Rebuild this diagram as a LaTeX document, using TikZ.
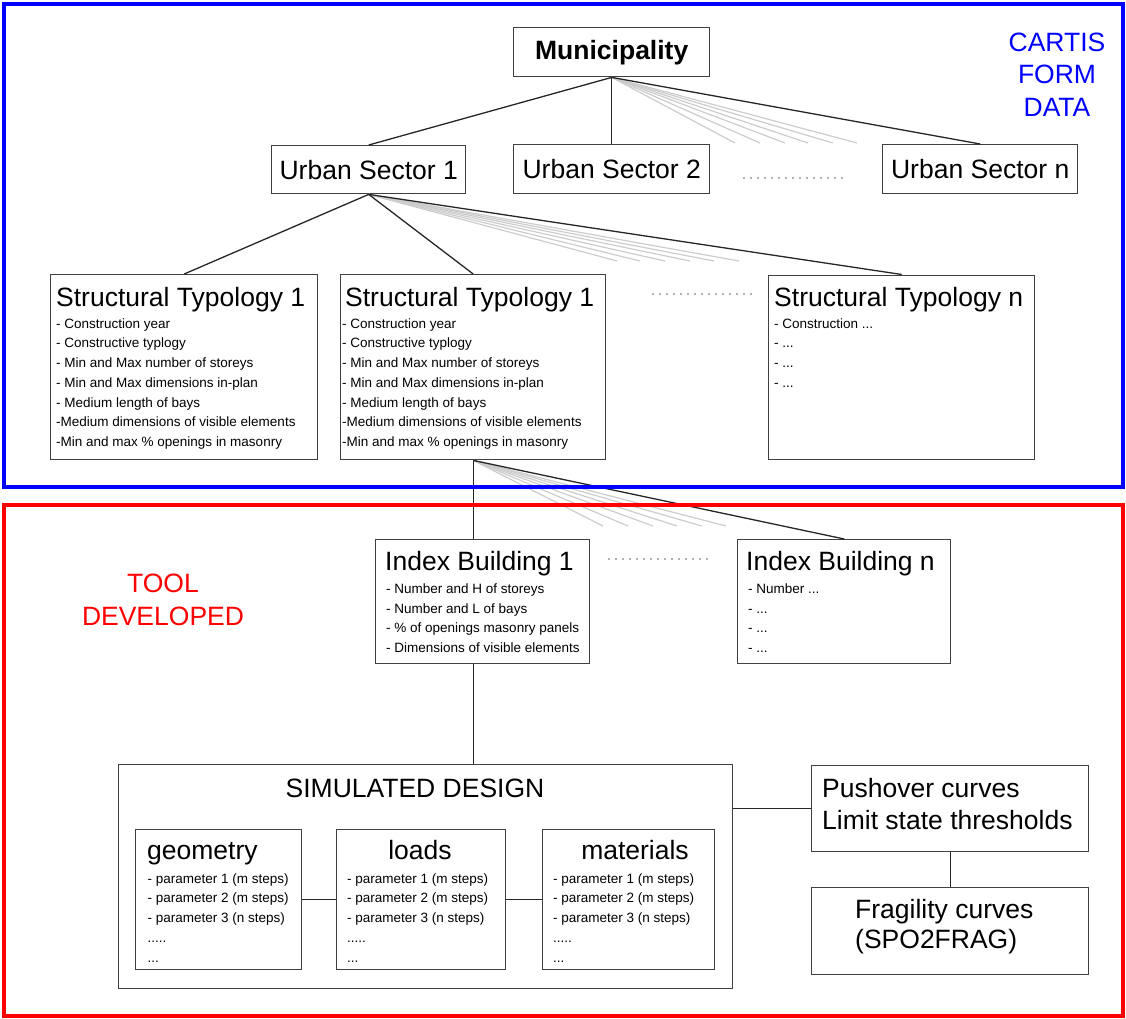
\documentclass[tikz,border=0pt]{standalone}
\usepackage{fontspec}
\setmainfont{Liberation Sans}

\begin{document}
\begin{tikzpicture}[x=1pt,y=-1pt,
  box/.style={draw=black!75, line width=1.4pt, inner sep=0pt, anchor=north west},
  big/.style={font=\fontsize{26.5}{32.5}\selectfont},
  title/.style={big, inner sep=0pt, anchor=base west},
  items/.style={font=\fontsize{13.5}{19.7}\selectfont, align=left, inner sep=0pt, anchor=north west},
  link/.style={draw=black!85, line width=1.3pt},
  fan/.style={draw=black!20, line width=1.2pt},
  gap/.style={draw=black!30, line width=1.6pt, dash pattern=on 1.6pt off 5.4pt}]

  \useasboundingbox (0,0) rectangle (1126,1019);

  \node[box, big, minimum width=196pt, minimum height=49pt] (mun) at (513,27) {\textbf{Municipality}};
  \node[box, big, minimum width=194pt, minimum height=48pt] (us1) at (271,145) {Urban Sector 1};
  \node[box, big, minimum width=196pt, minimum height=49pt] (us2) at (513,144) {Urban Sector 2};
  \node[box, big, minimum width=195pt, minimum height=49pt] (usn) at (882,144) {Urban Sector n};
  \coordinate (usgapa) at (743,178);
  \coordinate (usgapb) at (844,178);

  \node[box, minimum width=267pt, minimum height=185pt] (st1) at (50,274) {};
  \node[title] (st1t) at (56,306) {Structural Typology 1};
  \node[items] (st1l) at (56,318.3) {- Construction year\\- Constructive typlogy\\- Min and Max number of storeys\\- Min and Max dimensions in-plan\\- Medium length of bays\\-Medium dimensions of visible elements\\-Min and max \% openings in masonry};

  \node[box, minimum width=265pt, minimum height=185pt] (st2) at (340,274) {};
  \node[title] (st2t) at (345,306) {Structural Typology 1};
  \node[items] (st2l) at (342,318.3) {- Construction year\\- Constructive typlogy\\- Min and Max number of storeys\\- Min and Max dimensions in-plan\\- Medium length of bays\\-Medium dimensions of visible elements\\-Min and max \% openings in masonry};

  \node[box, minimum width=266pt, minimum height=184pt] (stn) at (768,274.5) {};
  \node[title] (stnt) at (774,306) {Structural Typology n};
  \node[items] (stnl) at (774,318.3) {- Construction ...\\- ...\\- ...\\- ...};
  \coordinate (stgapa) at (652,294);
  \coordinate (stgapb) at (754,294);

  \node[box, minimum width=214pt, minimum height=124pt] (ib1) at (375,539) {};
  \node[title] (ib1t) at (385,570) {Index Building 1};
  \node[items] (ib1l) at (386,583.4) {- Number and H of storeys\\- Number and L of bays\\- \% of openings masonry panels\\- Dimensions of visible elements};

  \node[box, minimum width=213pt, minimum height=124pt] (ibn) at (737,539) {};
  \node[title] (ibnt) at (746,570) {Index Building n};
  \node[items] (ibnl) at (748,583.4) {- Number ...\\- ...\\- ...\\- ...};
  \coordinate (ibgapa) at (608,559);
  \coordinate (ibgapb) at (710,559);

  \node[box, minimum width=614pt, minimum height=224pt] (sim) at (118,764) {};
  \node[big, anchor=base] (simt) at (415,797) {SIMULATED DESIGN};

  \node[box, minimum width=166pt, minimum height=140pt] (geo) at (135,829) {};
  \node[title] (geot) at (147,859) {geometry};
  \node[items] (geol) at (147.5,873.3) {- parameter 1 (m steps)\\- parameter 2 (m steps)\\- parameter 3 (n steps)\\.....\\...};

  \node[box, minimum width=169pt, minimum height=140pt] (loads) at (336,829) {};
  \node[big, anchor=base] (loadst) at (420,859) {loads};
  \node[items] (loadsl) at (347,873.3) {- parameter 1 (m steps)\\- parameter 2 (m steps)\\- parameter 3 (n steps)\\.....\\...};

  \node[box, minimum width=172pt, minimum height=140pt] (mat) at (542,829) {};
  \node[big, anchor=base] (matt) at (635,859) {materials};
  \node[items] (matl) at (553,873.3) {- parameter 1 (m steps)\\- parameter 2 (m steps)\\- parameter 3 (n steps)\\.....\\...};

  \node[box, minimum width=277pt, minimum height=86pt] (push) at (811,765) {};
  \node[big, align=left, inner sep=0pt, anchor=north west] (pusht) at (822,777.8) {Pushover curves\\Limit state thresholds};

  \node[box, minimum width=277pt, minimum height=87pt] (frag) at (811,887) {};
  \node[big, align=left, inner sep=0pt, anchor=north west, font=\fontsize{26.5}{30}\selectfont] (fragt) at (855,898.8) {Fragility curves\\(SPO2FRAG)};

  \node[big, align=center, text=blue] (cartis) at (1057,74.5) {CARTIS\\FORM\\DATA};
  \node[big, align=center, text=red, font=\fontsize{26.5}{33}\selectfont] (tool) at (163,599.5) {TOOL\\DEVELOPED};

  \foreach \fx in {735,760,785,808,833,857} {
    \coordinate (mf\fx) at (\fx,143);
    \draw[fan] (mun.south) -- (mf\fx);
  }
  \foreach \fx in {617,640,665,690,714,739} {
    \coordinate (uf\fx) at (\fx,261);
    \draw[fan] (us1.south) -- (uf\fx);
  }
  \foreach \fx in {603,628,653,677,702,726} {
    \coordinate (sf\fx) at (\fx,526);
    \draw[fan] (st2.south) -- (sf\fx);
  }

  \draw[link] (mun.south) -- (us1.north);
  \draw[link] (mun.south) -- (us2.north);
  \draw[link] (mun.south) -- (usn.north);
  \draw[link] (us1.south) -- (st1.north);
  \draw[link] (us1.south) -- (st2.north);
  \draw[link] (us1.south) -- (stn.north);
  \draw[link] (st2.south) -- (st2.south |- ib1.north);
  \draw[link] (st2.south) -- (ibn.north);
  \draw[link] (st2.south |- ib1.south) -- (st2.south |- sim.north);
  \draw[link] (geo.east) -- (loads.west);
  \draw[link] (loads.east) -- (mat.west);
  \draw[link] (sim.east |- push.west) -- (push.west);
  \draw[link] (push.south) -- (frag.north);

  \draw[gap] (usgapa) -- (usgapb);
  \draw[gap] (stgapa) -- (stgapb);
  \draw[gap] (ibgapa) -- (ibgapb);

  \draw[blue, line width=4pt] (3.5,4) rectangle (1122.5,486.5);
  \draw[red, line width=4pt] (3.5,505) rectangle (1122.5,1015.5);
\end{tikzpicture}
\end{document}
